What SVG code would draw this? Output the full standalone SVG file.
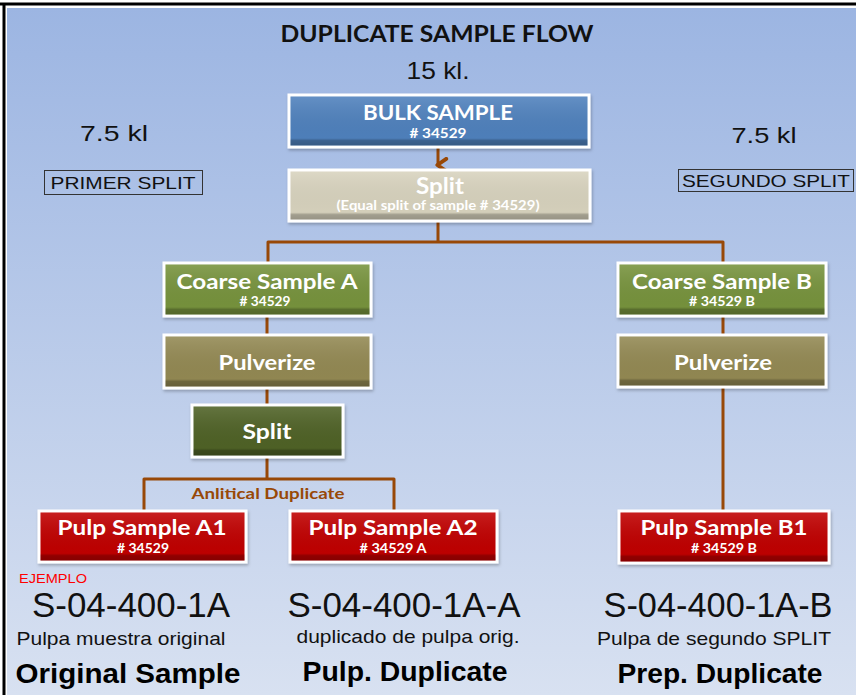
<svg xmlns="http://www.w3.org/2000/svg" width="856" height="695" viewBox="0 0 856 695">
<defs>
<linearGradient id="bg" x1="0" y1="0" x2="0" y2="1">
<stop offset="0" stop-color="#9cb5e2"/>
<stop offset="1" stop-color="#d8e1f1"/>
</linearGradient>
<linearGradient id="bevel" x1="0" y1="0" x2="0" y2="1">
<stop offset="0" stop-color="#ffffff" stop-opacity="0.12"/>
<stop offset="0.85" stop-color="#000000" stop-opacity="0.02"/>
<stop offset="0.9" stop-color="#000000" stop-opacity="0.25"/>
<stop offset="1" stop-color="#000000" stop-opacity="0.3"/>
</linearGradient>
<marker id="arr" viewBox="0 0 12 10" refX="6" refY="8" markerWidth="5.5" markerHeight="4.6" orient="auto" markerUnits="strokeWidth">
<path d="M1.5,2 L6,8.5 L10.5,2" fill="none" stroke="#984807" stroke-width="2.8" stroke-linecap="round" stroke-linejoin="round"/>
</marker>
<filter id="sh" x="-10%" y="-20%" width="120%" height="150%">
<feDropShadow dx="1" dy="2" stdDeviation="1.5" flood-color="#000" flood-opacity="0.25"/>
</filter>
</defs>
<style>
.box{stroke:#ffffff;stroke-width:3;filter:url(#sh)}
.bev{fill:url(#bevel)}
.lbl{font-family:Lato,"Open Sans",sans-serif;font-weight:bold;fill:#ffffff;text-anchor:middle}
.sub{font-family:Lato,"Open Sans",sans-serif;font-weight:bold;fill:#ffffff;text-anchor:middle;font-size:13px}
.con{fill:none;stroke:#984807;stroke-width:3;stroke-linejoin:round}
.ar{font-family:"Liberation Sans",Arial,sans-serif;fill:#111;text-anchor:middle}
.bd{font-family:"Liberation Sans",Arial,sans-serif;font-weight:bold;fill:#000;text-anchor:middle}
</style>
<rect x="0" y="0" width="856" height="695" fill="#ffffff"/>
<rect x="7" y="8" width="849" height="687" fill="url(#bg)"/>
<line x1="0" y1="4" x2="856" y2="4" stroke="#000" stroke-width="3"/>
<line x1="4" y1="3" x2="4" y2="695" stroke="#000" stroke-width="3"/>

<g id="title">
<text x="437" y="42" font-family="Lato,'Open Sans',sans-serif" font-weight="bold" font-size="22" fill="#111" text-anchor="middle" textLength="313" lengthAdjust="spacingAndGlyphs">DUPLICATE SAMPLE FLOW</text>
<text x="438" y="79" class="ar" font-size="24" textLength="63" lengthAdjust="spacingAndGlyphs">15 kl.</text>
</g>

<g id="left-label">
<text x="114" y="141" class="ar" font-size="22" textLength="68" lengthAdjust="spacingAndGlyphs">7.5 kl</text>
<rect x="44.5" y="170.5" width="158" height="24" fill="none" stroke="#333" stroke-width="1"/>
<text x="123" y="189" class="ar" font-size="17" textLength="145" lengthAdjust="spacingAndGlyphs">PRIMER SPLIT</text>
</g>
<g id="right-label">
<text x="764" y="143" class="ar" font-size="22" textLength="65" lengthAdjust="spacingAndGlyphs">7.5 kl</text>
<rect x="678.5" y="169.5" width="175" height="22" fill="none" stroke="#333" stroke-width="1"/>
<text x="766" y="187" class="ar" font-size="17" textLength="168" lengthAdjust="spacingAndGlyphs">SEGUNDO SPLIT</text>
</g>

<g id="connectors">
<line x1="438" y1="148" x2="438" y2="165" class="con" marker-end="url(#arr)"/>
<path d="M438,222 V242 H268 V262 M438,242 H723 V262" class="con"/>
<path d="M267,316 V335 M267,388 V405 M267,457 V479 H144 V510 M267,479 H394 V510" class="con"/>
<path d="M723,316 V335 M723,387 V510" class="con"/>
</g>

<g id="bulk-sample">
<rect x="289" y="95" width="300" height="52" fill="#4f81bd" class="box"/>
<rect x="290.5" y="96.5" width="297" height="49" class="bev"/>
<text x="438" y="120" class="lbl" font-size="21" textLength="150" lengthAdjust="spacingAndGlyphs">BULK SAMPLE</text>
<text x="438" y="138" class="sub" font-size="14" textLength="57" lengthAdjust="spacingAndGlyphs"># 34529</text>
</g>

<g id="split-top">
<rect x="289" y="170" width="301" height="51" fill="#d8d3be" class="box"/>
<rect x="290.5" y="171.5" width="298" height="48" class="bev"/>
<text x="440" y="194" class="lbl" font-size="22" textLength="48" lengthAdjust="spacingAndGlyphs">Split</text>
<text x="438" y="210" class="sub" font-size="12" textLength="203" lengthAdjust="spacingAndGlyphs">(Equal split of sample # 34529)</text>
</g>

<g id="coarse-a">
<rect x="164" y="263" width="207" height="53" fill="#77933c" class="box"/>
<rect x="165.5" y="264.5" width="204" height="50" class="bev"/>
<text x="267" y="289" class="lbl" font-size="21" textLength="181" lengthAdjust="spacingAndGlyphs">Coarse Sample A</text>
<text x="265" y="306" class="sub" font-size="12" textLength="51" lengthAdjust="spacingAndGlyphs"># 34529</text>
</g>

<g id="pulverize-a">
<rect x="164" y="335" width="207" height="53" fill="#938953" class="box"/>
<rect x="165.5" y="336.5" width="204" height="50" class="bev"/>
<text x="267" y="370" class="lbl" font-size="21" textLength="97" lengthAdjust="spacingAndGlyphs">Pulverize</text>
</g>

<g id="split-a">
<rect x="192" y="405" width="151" height="52" fill="#4f6228" class="box"/>
<rect x="193.5" y="406.5" width="148" height="49" class="bev"/>
<text x="267" y="439" class="lbl" font-size="21" textLength="49" lengthAdjust="spacingAndGlyphs">Split</text>
</g>

<g id="analytical-label">
<text x="268" y="499" font-family="Lato,'Open Sans',sans-serif" font-weight="bold" font-size="15" fill="#984807" text-anchor="middle" textLength="153" lengthAdjust="spacingAndGlyphs">Anlitical Duplicate</text>
</g>

<g id="pulp-a1">
<rect x="39" y="511" width="207" height="51" fill="#c00000" class="box"/>
<rect x="40.5" y="512.5" width="204" height="48" class="bev"/>
<text x="142" y="535" class="lbl" font-size="21" textLength="169" lengthAdjust="spacingAndGlyphs">Pulp Sample A1</text>
<text x="143" y="553" class="sub" font-size="13" textLength="52" lengthAdjust="spacingAndGlyphs"># 34529</text>
</g>

<g id="pulp-a2">
<rect x="290" y="511" width="207" height="51" fill="#c00000" class="box"/>
<rect x="291.5" y="512.5" width="204" height="48" class="bev"/>
<text x="393" y="535" class="lbl" font-size="21" textLength="169" lengthAdjust="spacingAndGlyphs">Pulp Sample A2</text>
<text x="393" y="553" class="sub" font-size="13" textLength="67" lengthAdjust="spacingAndGlyphs"># 34529 A</text>
</g>

<g id="coarse-b">
<rect x="618" y="263" width="208" height="53" fill="#77933c" class="box"/>
<rect x="619.5" y="264.5" width="205" height="50" class="bev"/>
<text x="722" y="289" class="lbl" font-size="21" textLength="180" lengthAdjust="spacingAndGlyphs">Coarse Sample B</text>
<text x="722" y="306" class="sub" font-size="12" textLength="66" lengthAdjust="spacingAndGlyphs"># 34529 B</text>
</g>

<g id="pulverize-b">
<rect x="618" y="335" width="208" height="52" fill="#938953" class="box"/>
<rect x="619.5" y="336.5" width="205" height="49" class="bev"/>
<text x="723" y="370" class="lbl" font-size="21" textLength="98" lengthAdjust="spacingAndGlyphs">Pulverize</text>
</g>

<g id="pulp-b1">
<rect x="619" y="511" width="210" height="52" fill="#c00000" class="box"/>
<rect x="620.5" y="512.5" width="207" height="49" class="bev"/>
<text x="724" y="535" class="lbl" font-size="21" textLength="167" lengthAdjust="spacingAndGlyphs">Pulp Sample B1</text>
<text x="724" y="553" class="sub" font-size="13" textLength="66" lengthAdjust="spacingAndGlyphs"># 34529 B</text>
</g>

<g id="examples">
<text x="19" y="583" font-family="'Liberation Sans',Arial,sans-serif" font-size="13" fill="#ff0000" textLength="68" lengthAdjust="spacingAndGlyphs">EJEMPLO</text>
<text x="131" y="617" class="ar" font-size="35" textLength="198" lengthAdjust="spacingAndGlyphs">S-04-400-1A</text>
<text x="404" y="617" class="ar" font-size="35" textLength="233" lengthAdjust="spacingAndGlyphs">S-04-400-1A-A</text>
<text x="718" y="617" class="ar" font-size="35" textLength="229" lengthAdjust="spacingAndGlyphs">S-04-400-1A-B</text>
<text x="121" y="645" class="ar" font-size="19" textLength="209" lengthAdjust="spacingAndGlyphs">Pulpa muestra original</text>
<text x="408" y="643" class="ar" font-size="19" textLength="223" lengthAdjust="spacingAndGlyphs">duplicado de pulpa orig.</text>
<text x="714" y="645" class="ar" font-size="19" textLength="234" lengthAdjust="spacingAndGlyphs">Pulpa de segundo SPLIT</text>
<text x="128" y="683" class="bd" font-size="28" textLength="225" lengthAdjust="spacingAndGlyphs">Original Sample</text>
<text x="405" y="681" class="bd" font-size="28" textLength="205" lengthAdjust="spacingAndGlyphs">Pulp. Duplicate</text>
<text x="720" y="683" class="bd" font-size="28" textLength="205" lengthAdjust="spacingAndGlyphs">Prep. Duplicate</text>
</g>
</svg>
